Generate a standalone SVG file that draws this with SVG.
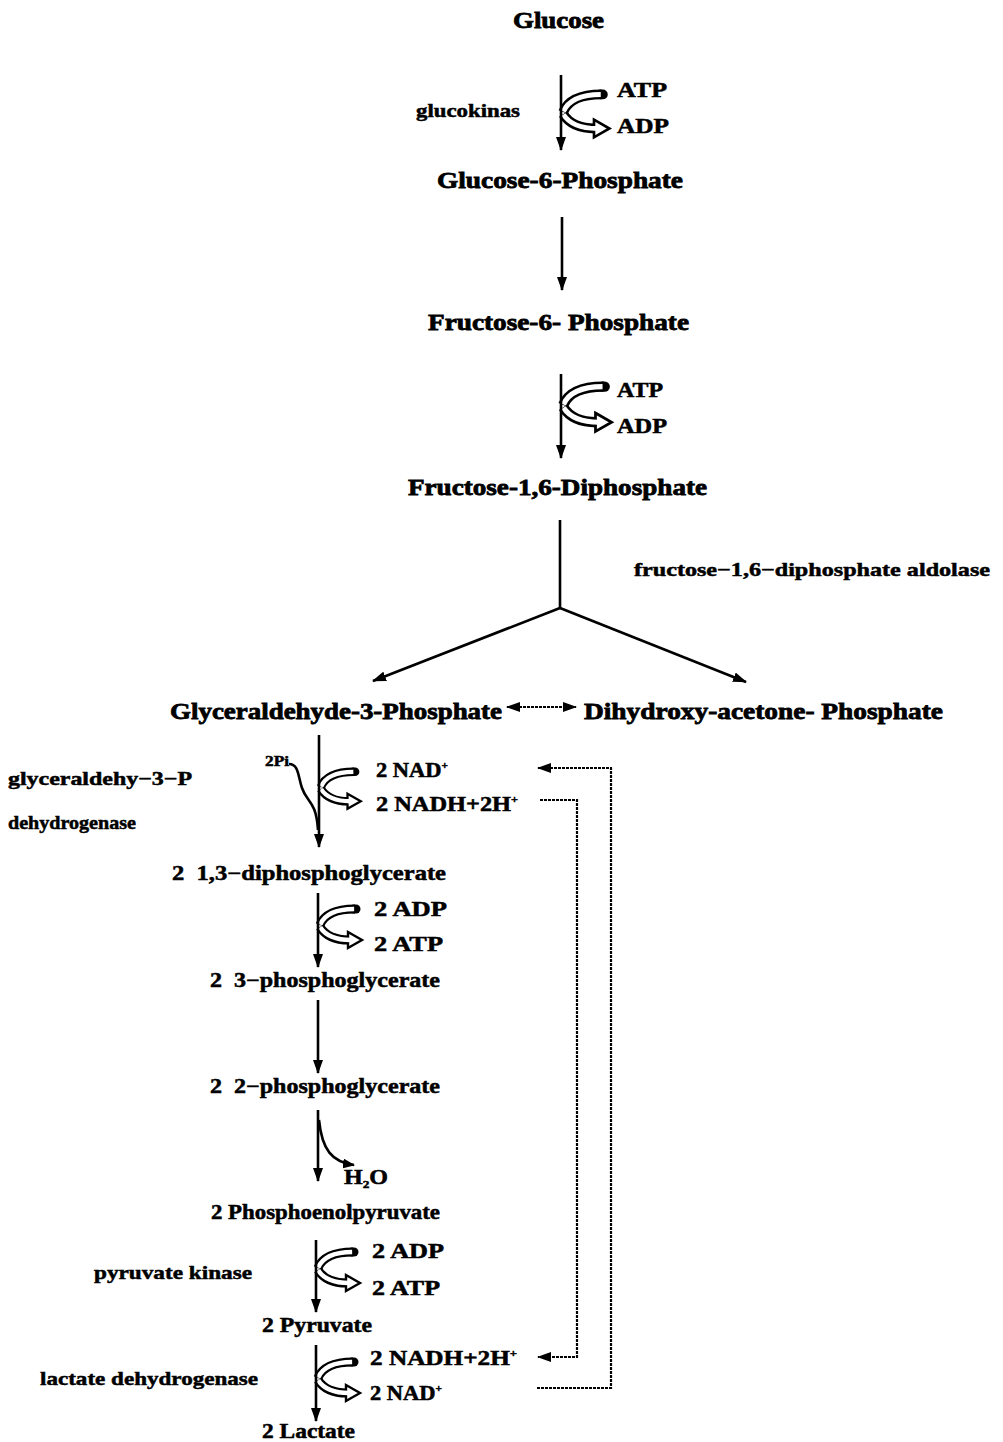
<svg xmlns="http://www.w3.org/2000/svg" xmlns:xlink="http://www.w3.org/1999/xlink" width="1003" height="1442" viewBox="0 0 1003 1442">
<style>
text{font-family:"Liberation Serif","Times New Roman",serif;font-weight:bold;fill:#000;stroke:#000;stroke-width:0.5}
.m{font-size:24px;stroke-width:0.8}
.s{font-size:20px}
.e{font-size:19px}
.ln{stroke:#000;stroke-width:2.6;fill:none}
.dot{stroke:#000;stroke-width:2.2;fill:none;stroke-dasharray:3 1}
.bk{stroke:#000;stroke-width:9;fill:none;stroke-linecap:butt}
.wh{stroke:#fff;stroke-width:4.5;fill:none}
</style>
<defs>
<marker id="ah" viewBox="0 0 14 10" refX="13" refY="5" markerWidth="14" markerHeight="10" markerUnits="userSpaceOnUse" orient="auto-start-reverse"><path d="M0,0 L14,5 L0,10 z" fill="#000"/></marker>
<marker id="ahs" viewBox="0 0 12 10" refX="11" refY="5" markerWidth="12" markerHeight="10" markerUnits="userSpaceOnUse" orient="auto-start-reverse"><path d="M0,0 L12,5 L0,10 z" fill="#000"/></marker>
<g id="cof">
<path class="bk" d="M2,0 C6,-10 16,-16 37,-16"/>
<path d="M36,-16 L38,-16" stroke="#000" stroke-width="9" stroke-linecap="round"/>
<path class="wh" d="M2,0 C6,-10 16,-16 37,-16" pathLength="100" stroke-dasharray="0 1 97 20"/>
<path class="bk" d="M2,2 C7,10 16,15 31,15"/>
<polygon points="30,7 44,15 30,23" fill="#fff" stroke="#000" stroke-width="2.4" stroke-linejoin="miter"/>
<path class="wh" d="M2,2 C7,10 16,15 33,15" pathLength="100" stroke-dasharray="0 1 99"/>
</g>
</defs>
<g id="connectors">
<use xlink:href="#cof" transform="translate(561,112) scale(1.1)"/>
<use xlink:href="#cof" transform="translate(561,405) scale(1.15)"/>
<use xlink:href="#cof" transform="translate(319,787) scale(0.95)"/>
<use xlink:href="#cof" transform="translate(318,925)"/>
<use xlink:href="#cof" transform="translate(316,1268)"/>
<use xlink:href="#cof" transform="translate(316,1378)"/>
<line class="ln" x1="561" y1="75" x2="561" y2="150" marker-end="url(#ah)"/>
<line class="ln" x1="562" y1="217" x2="562" y2="290" marker-end="url(#ah)"/>
<line class="ln" x1="561" y1="374" x2="561" y2="458" marker-end="url(#ah)"/>
<polyline class="ln" points="560,520 560,608"/>
<line class="ln" x1="560" y1="608" x2="373" y2="681" marker-end="url(#ah)"/>
<line class="ln" x1="560" y1="608" x2="746" y2="682" marker-end="url(#ah)"/>
<line class="dot" x1="507" y1="707" x2="576" y2="707" marker-start="url(#ah)" marker-end="url(#ah)"/>
<line class="ln" x1="319" y1="735" x2="319" y2="847" marker-end="url(#ah)"/>
<path class="ln" d="M289,764 C299,764 298,777 302,788 C307,803 316,800 318,830"/>
<line class="ln" x1="318" y1="893" x2="318" y2="967" marker-end="url(#ah)"/>
<line class="ln" x1="318" y1="1000" x2="318" y2="1073" marker-end="url(#ah)"/>
<line class="ln" x1="318" y1="1110" x2="318" y2="1181" marker-end="url(#ah)"/>
<path class="ln" d="M319,1120 C322,1150 332,1162 354,1165" marker-end="url(#ahs)"/>
<line class="ln" x1="316" y1="1240" x2="316" y2="1312" marker-end="url(#ah)"/>
<line class="ln" x1="316" y1="1345" x2="316" y2="1421" marker-end="url(#ah)"/>
<polyline class="dot" points="537,1388 611,1388 611,768 538,768" marker-end="url(#ah)"/>
<polyline class="dot" points="540,800 577,800 577,1357 538,1357" marker-end="url(#ah)"/>
</g>
<g id="n-glucose"><text class="m" x="513" y="28" textLength="91" lengthAdjust="spacingAndGlyphs">Glucose</text></g>
<g id="n-glucokinase"><text class="e" x="416" y="117" textLength="104" lengthAdjust="spacingAndGlyphs">glucokinas</text></g>
<g id="n-atp1"><text class="s" x="617" y="97" textLength="50" lengthAdjust="spacingAndGlyphs">ATP</text><text class="s" x="617" y="133" textLength="52" lengthAdjust="spacingAndGlyphs">ADP</text></g>
<g id="n-g6p"><text class="m" x="437" y="188" textLength="246" lengthAdjust="spacingAndGlyphs">Glucose-6-Phosphate</text></g>
<g id="n-f6p"><text class="m" x="428" y="330" textLength="261" lengthAdjust="spacingAndGlyphs">Fructose-6- Phosphate</text></g>
<g id="n-atp2"><text class="s" x="617" y="397" textLength="46" lengthAdjust="spacingAndGlyphs">ATP</text><text class="s" x="617" y="433" textLength="50" lengthAdjust="spacingAndGlyphs">ADP</text></g>
<g id="n-f16dp"><text class="m" x="408" y="495" textLength="299" lengthAdjust="spacingAndGlyphs">Fructose-1,6-Diphosphate</text></g>
<g id="n-aldolase"><text class="e" x="634" y="576" textLength="356" lengthAdjust="spacingAndGlyphs">fructose−1,6−diphosphate aldolase</text></g>
<g id="n-g3p"><text class="m" x="170" y="719" textLength="332" lengthAdjust="spacingAndGlyphs">Glyceraldehyde-3-Phosphate</text></g>
<g id="n-dhap"><text class="m" x="584" y="719" textLength="359" lengthAdjust="spacingAndGlyphs">Dihydroxy-acetone- Phosphate</text></g>
<g id="n-2pi"><text x="265" y="766" style="font-size:15px" textLength="24" lengthAdjust="spacingAndGlyphs">2Pi</text></g>
<g id="n-nad1"><text class="s" x="376" y="777" textLength="72" lengthAdjust="spacingAndGlyphs">2 NAD<tspan dy="-8" style="font-size:10px">+</tspan></text><text class="s" x="376" y="811" textLength="142" lengthAdjust="spacingAndGlyphs">2 NADH+2H<tspan dy="-8" style="font-size:10px">+</tspan></text></g>
<g id="n-gapdh"><text class="e" x="8" y="785" textLength="184" lengthAdjust="spacingAndGlyphs">glyceraldehy−3−P</text><text class="e" x="8" y="829" textLength="128" lengthAdjust="spacingAndGlyphs">dehydrogenase</text></g>
<g id="n-13dpg"><text class="s" x="172" y="880" textLength="274" lengthAdjust="spacingAndGlyphs" xml:space="preserve">2  1,3−diphosphoglycerate</text></g>
<g id="n-adp3"><text class="s" x="374" y="916" textLength="73" lengthAdjust="spacingAndGlyphs">2 ADP</text><text class="s" x="374" y="951" textLength="69" lengthAdjust="spacingAndGlyphs">2 ATP</text></g>
<g id="n-3pg"><text class="s" x="210" y="987" textLength="230" lengthAdjust="spacingAndGlyphs" xml:space="preserve">2  3−phosphoglycerate</text></g>
<g id="n-2pg"><text class="s" x="210" y="1093" textLength="230" lengthAdjust="spacingAndGlyphs" xml:space="preserve">2  2−phosphoglycerate</text></g>
<g id="n-h2o"><text class="s" x="344" y="1184" textLength="44" lengthAdjust="spacingAndGlyphs">H<tspan dy="4" style="font-size:11px">2</tspan><tspan dy="-4">O</tspan></text></g>
<g id="n-pep"><text class="s" x="211" y="1219" textLength="229" lengthAdjust="spacingAndGlyphs">2 Phosphoenolpyruvate</text></g>
<g id="n-pk"><text class="e" x="94" y="1279" textLength="158" lengthAdjust="spacingAndGlyphs">pyruvate kinase</text></g>
<g id="n-adp4"><text class="s" x="372" y="1258" textLength="72" lengthAdjust="spacingAndGlyphs">2 ADP</text><text class="s" x="372" y="1295" textLength="68" lengthAdjust="spacingAndGlyphs">2 ATP</text></g>
<g id="n-pyruvate"><text class="s" x="262" y="1332" textLength="110" lengthAdjust="spacingAndGlyphs">2 Pyruvate</text></g>
<g id="n-ldh"><text class="e" x="40" y="1385" textLength="218" lengthAdjust="spacingAndGlyphs">lactate dehydrogenase</text></g>
<g id="n-nad2"><text class="s" x="370" y="1365" textLength="147" lengthAdjust="spacingAndGlyphs">2 NADH+2H<tspan dy="-8" style="font-size:10px">+</tspan></text><text class="s" x="370" y="1400" textLength="72" lengthAdjust="spacingAndGlyphs">2 NAD<tspan dy="-8" style="font-size:10px">+</tspan></text></g>
<g id="n-lactate"><text class="s" x="262" y="1438" textLength="93" lengthAdjust="spacingAndGlyphs">2 Lactate</text></g>
</svg>
